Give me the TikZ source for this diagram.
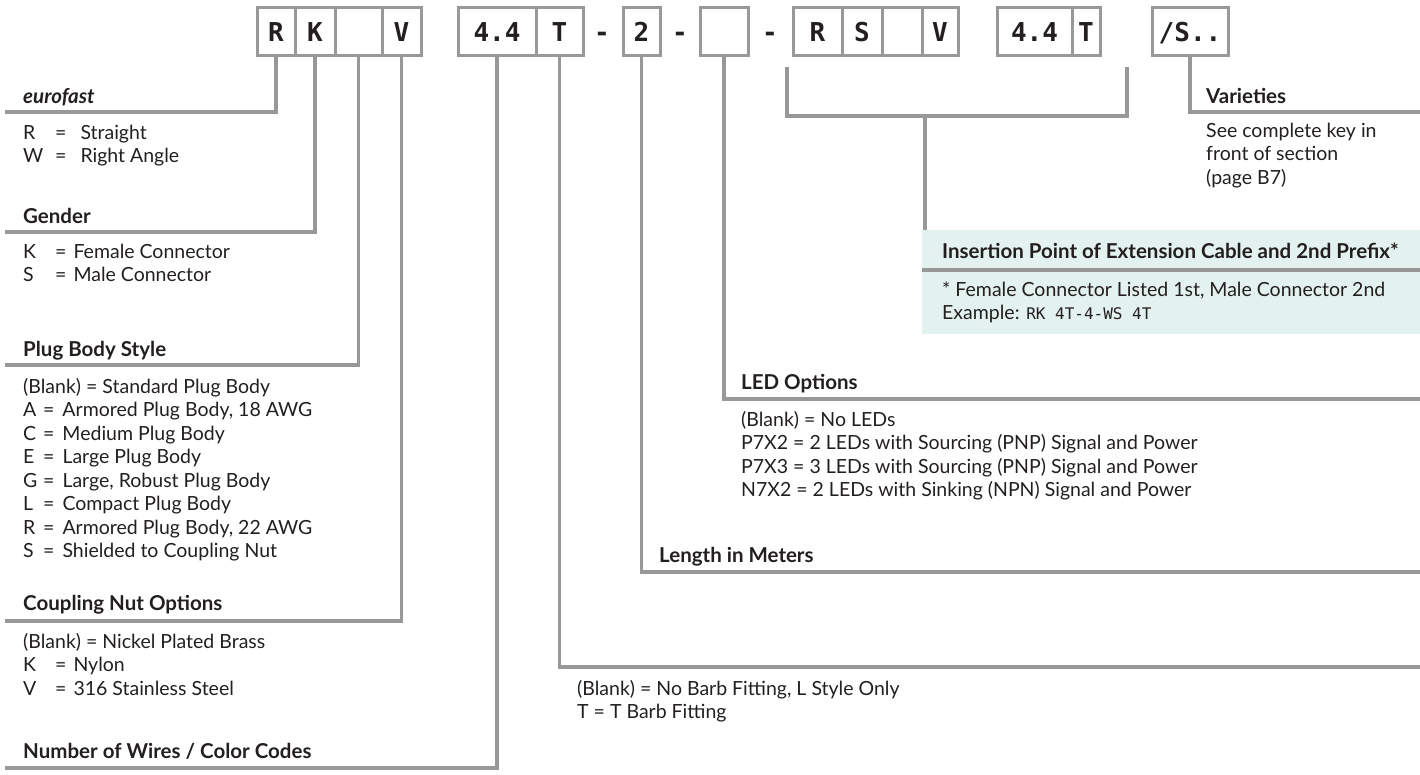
\documentclass[tikz,border=0pt]{standalone}
\usepackage{fontspec}
\setmainfont{Lato}
\newfontfamily\codefont{DejaVu Sans Mono}
\definecolor{linegray}{RGB}{152,152,152}
\definecolor{ink}{RGB}{35,31,32}
\definecolor{mint}{RGB}{227,242,239}
\tikzset{
	codebox/.style={draw=linegray, line width=3pt, inner sep=0pt, minimum height=48pt, text height=19pt, text depth=0pt, text=ink, font=\codefont\bfseries\fontsize{26}{26}\selectfont},
	codedash/.style={inner sep=0pt, anchor=base, text=ink, font=\codefont\bfseries\fontsize{26}{26}\selectfont},
	conn/.style={draw=linegray, line width=3.5pt},
	head/.style={inner sep=0pt, anchor=base west, text=ink, font=\bfseries\fontsize{20.5}{24}\selectfont},
	% anchor base of a multi-line node = baseline of its last line
	body/.style={inner sep=0pt, anchor=base west, align=left, text=ink, font=\fontsize{19.5}{23.5}\selectfont},
}
\newcommand{\kv}[3]{\makebox[#1][l]{#2}=\hspace{#3}}

\begin{document}
\begin{tikzpicture}[x=1pt, y=-1pt]
			%%%%% START %%%%%
			\useasboundingbox (0,0) rectangle (1420,774);
			
			% code boxes
			\node[codebox, minimum width=38pt] (bR) at (276,31.5) {R};
			\node[codebox, minimum width=40pt] (bK) at (315,31.5) {K};
			\node[codebox, minimum width=47pt] (bPlug) at (358.5,31.5) {};
			\node[codebox, minimum width=39pt] (bNut) at (401.5,31.5) {V};
			
			\node[codebox, minimum width=78pt] (bWires) at (497,31.5) {4.4};
			\node[codebox, minimum width=47pt] (bBarb) at (559.5,31.5) {T};
			\node[codedash] (d1) at (602,41) {-};
			\node[codebox, minimum width=37pt] (bLen) at (641.5,31.5) {2};
			\node[codedash] (d2) at (680,41) {-};
			\node[codebox, minimum width=48pt] (bLed) at (724,31.5) {};
			\node[codedash] (d3) at (770,41) {-};
			
			\node[codebox, minimum width=49pt] (bR2) at (817.5,31.5) {R};
			\node[codebox, minimum width=40pt] (bS2) at (862,31.5) {S};
			\node[codebox, minimum width=40pt] (bPlug2) at (902,31.5) {};
			\node[codebox, minimum width=36pt] (bNut2) at (940,31.5) {V};
			\node[codebox, minimum width=75pt] (bWires2) at (1034.5,31.5) {4.4};
			\node[codebox, minimum width=28pt] (bBarb2) at (1086,31.5) {T};
			\node[codebox, minimum width=76pt] (bVar) at (1190,31.5) {/S..};
			
			% ends of the leader lines
			\coordinate (euroL) at (5,112);
			\coordinate (genderL) at (5,232);
			\coordinate (plugL) at (5,365);
			\coordinate (nutL) at (5,621);
			\coordinate (wiresL) at (5,768);
			\coordinate (barbR) at (1420,667);
			\coordinate (lenR) at (1420,572);
			\coordinate (ledR) at (1420,399);
			\coordinate (varR) at (1420,112);
			\coordinate (brL) at (787,67);
			\coordinate (brR) at (1127,67);
			\coordinate (stemTop) at (925,116);
			
			\draw[conn] (bR.south) |- (euroL);
			\draw[conn] (bK.south) |- (genderL);
			\draw[conn] (bPlug.south) |- (plugL);
			\draw[conn] (bNut.south) |- (nutL);
			\draw[conn] (bWires.south) |- (wiresL);
			\draw[conn] (bBarb.south) |- (barbR);
			\draw[conn] (bLen.south) |- (lenR);
			\draw[conn] (bLed.south) |- (ledR);
			\draw[conn] (bVar.south) |- (varR);
			\draw[conn] (brL) |- (stemTop) -| (brR);
			
			% insertion point box
			\node[fill=mint, inner sep=0pt, anchor=north west, minimum width=498pt, minimum height=104pt] (ins) at (922,230) {};
			\draw[conn] (stemTop) -- (stemTop |- ins.north);
			\draw[conn] (ins.west |- 0,270) -- (ins.east |- 0,270);
			\node[head] (hIns) at (942,258) {Insertion Point of Extension Cable and 2nd Prefix*};
			\node[body] (tIns) at (942,319.5) {* Female Connector Listed 1st, Male Connector 2nd\\Example: {\codefont\fontsize{16}{20}\selectfont RK 4T-4-WS 4T}};
			
			% left column
			\node[head] (hEuro) at (23,103) {\itshape eurofast};
			\node[body] (tEuro) at (23,162.5) {\kv{32pt}{R}{14pt}Straight\\\kv{32pt}{W}{14pt}Right Angle};
			
			\node[head] (hGender) at (23,223) {Gender};
			\node[body] (tGender) at (23,281.5) {\kv{32pt}{K}{7pt}Female Connector\\\kv{32pt}{S}{7pt}Male Connector};
			
			\node[head] (hPlug) at (23,356) {Plug Body Style};
			\node[body] (tPlug) at (23,557.5) {(Blank) = Standard Plug Body\\
				\kv{20pt}{A}{8pt}Armored Plug Body, 18 AWG\\
				\kv{20pt}{C}{8pt}Medium Plug Body\\
				\kv{20pt}{E}{8pt}Large Plug Body\\
				\kv{20pt}{G}{8pt}Large, Robust Plug Body\\
				\kv{20pt}{L}{8pt}Compact Plug Body\\
				\kv{20pt}{R}{8pt}Armored Plug Body, 22 AWG\\
				\kv{20pt}{S}{8pt}Shielded to Coupling Nut};
			
			\node[head] (hNut) at (23,610) {Coupling Nut Options};
			\node[body] (tNut) at (23,695) {(Blank) = Nickel Plated Brass\\
				\kv{32pt}{K}{7pt}Nylon\\
				\kv{32pt}{V}{7pt}316 Stainless Steel};
			
			\node[head] (hWires) at (23,758) {Number of Wires / Color Codes};
			
			% right column
			\node[head] (hVar) at (1206,103) {Varieties};
			\node[body] (tVar) at (1206,184) {See complete key in\\front of section\\(page B7)};
			
			\node[head] (hLed) at (741,389) {LED Options};
			\node[body] (tLed) at (741,496.5) {(Blank) = No LEDs\\
				P7X2 = 2 LEDs with Sourcing (PNP) Signal and Power\\
				P7X3 = 3 LEDs with Sourcing (PNP) Signal and Power\\
				N7X2 = 2 LEDs with Sinking (NPN) Signal and Power};
			
			\node[head] (hLen) at (659,562) {Length in Meters};
			
			\node[body] (tBarb) at (577,718.5) {(Blank) = No Barb Fitting, L Style Only\\T = T Barb Fitting};
			%%%%% END %%%%%
\end{tikzpicture}
\end{document}
